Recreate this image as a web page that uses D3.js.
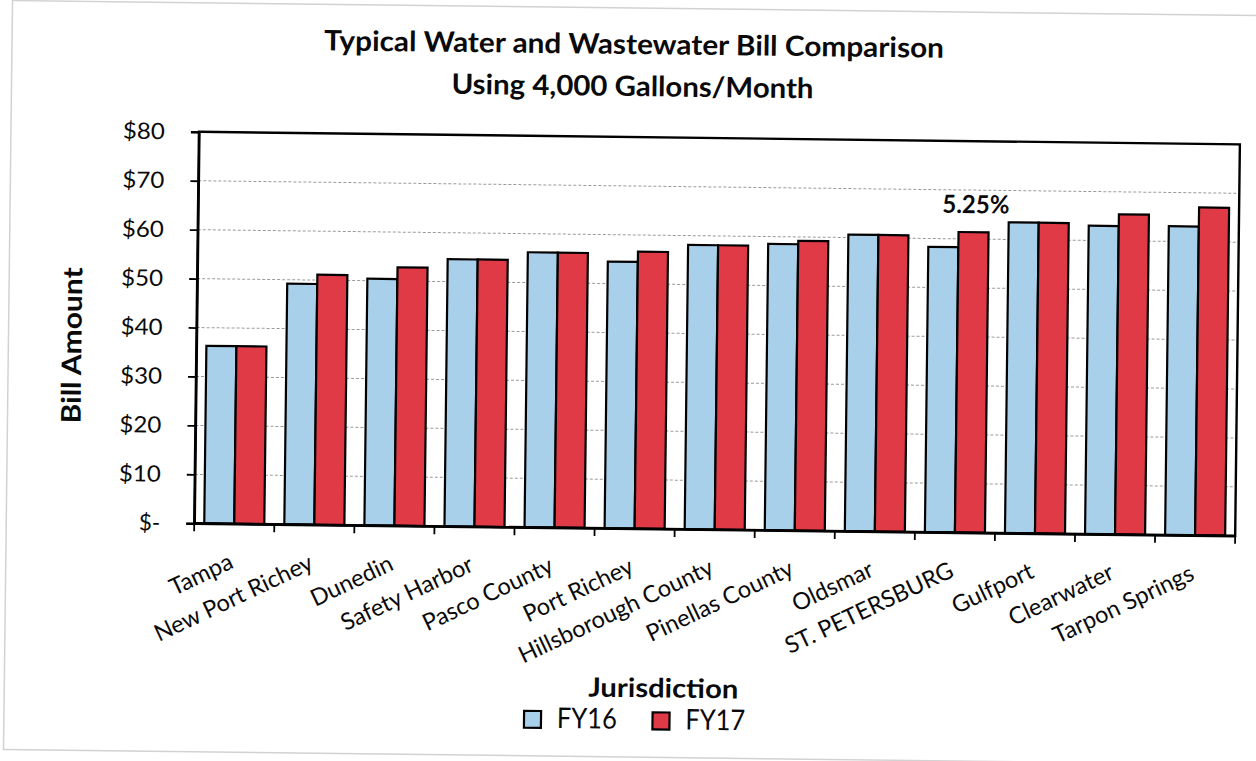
<!DOCTYPE html>
<html>
<head>
<meta charset="utf-8">
<script src="https://cdn.jsdelivr.net/npm/d3@7"></script>
<style>
  html, body { margin: 0; padding: 0; background: #ffffff; }
  svg { display: block; }
  text { font-family: Lato, "Open Sans", "Liberation Sans", sans-serif; fill: #0a0a0a; }
</style>
</head>
<body>
<svg id="chart" width="1256" height="761"></svg>
<script>
// ---- data ----
const categories = ["Tampa", "New Port Richey", "Dunedin", "Safety Harbor", "Pasco County",
  "Port Richey", "Hillsborough County", "Pinellas County", "Oldsmar", "ST. PETERSBURG",
  "Gulfport", "Clearwater", "Tarpon Springs"];
const seriesNames = ["FY16", "FY17"];
const fy16 = [36.3, 49.2, 50.4, 54.6, 56.2, 54.5, 58.1, 58.5, 60.6, 58.3, 63.5, 63.0, 63.1];
const fy17 = [36.3, 51.1, 52.8, 54.6, 56.2, 56.6, 58.1, 59.2, 60.6, 61.4, 63.5, 65.4, 67.0];
const yTicks = [0, 10, 20, 30, 40, 50, 60, 70, 80];
const yTickLabels = ["$-", "$10", "$20", "$30", "$40", "$50", "$60", "$70", "$80"];
const titleLines = ["Typical Water and Wastewater Bill Comparison", "Using 4,000 Gallons/Month"];
const yAxisTitle = "Bill Amount";
const xAxisTitle = "Jurisdiction";
const annotationCategory = ["ST. PETERSBURG"];
const annotationSeries = ["FY17"];
const annotationText = ["5.25%"];

// ---- styles ----
const colors = { FY16: "#a9d0ea", FY17: "#e03a46" };
const seriesValues = { FY16: fy16, FY17: fy17 };

const svg = d3.select("#chart");
svg.append("rect").attr("width", 1256).attr("height", 761).attr("fill", "#ffffff");

// the scanned page is turned slightly clockwise
const root = svg.append("g").attr("transform", "rotate(0.69, 628, 380)");

// faint page/chart-area frame
root.append("rect")
  .attr("x", 8).attr("y", 8).attr("width", 1270).attr("height", 749)
  .attr("fill", "none").attr("stroke", "#d2d2d2").attr("stroke-width", 1.5);

const plot = { left: 196, right: 1237, top: 137, bottom: 528.5 };

const x = d3.scaleBand().domain(categories)
  .range([plot.left, plot.right]).paddingInner(0.25).paddingOuter(0.125);
const xs = d3.scaleBand().domain(seriesNames).range([0, x.bandwidth()]);
const y = d3.scaleLinear().domain([0, 80]).range([plot.bottom, plot.top]);

// squeeze/stretch a text to a measured width, keeping its height
function setLen(sel, target) {
  sel.attr("textLength", target).attr("lengthAdjust", "spacingAndGlyphs");
}

// gridlines
root.append("g").selectAll("line")
  .data(yTicks.filter(d => d > 0 && d < 80))
  .join("line")
  .attr("x1", plot.left).attr("x2", plot.right)
  .attr("y1", d => y(d)).attr("y2", d => y(d))
  .attr("stroke", "#9a9a9a").attr("stroke-width", 1)
  .attr("stroke-dasharray", "3,2");

// bars
const groups = root.append("g").selectAll("g")
  .data(categories)
  .join("g")
  .attr("transform", d => `translate(${x(d)},0)`);

groups.selectAll("rect")
  .data((c, i) => seriesNames.map(s => ({ s, v: seriesValues[s][i] })))
  .join("rect")
  .attr("x", d => xs(d.s))
  .attr("width", xs.bandwidth())
  .attr("y", d => y(d.v))
  .attr("height", d => y(0) - y(d.v))
  .attr("fill", d => colors[d.s])
  .attr("stroke", "#000").attr("stroke-width", 2.2);

// plot border
root.append("rect")
  .attr("x", plot.left).attr("y", plot.top)
  .attr("width", plot.right - plot.left).attr("height", plot.bottom - plot.top)
  .attr("fill", "none").attr("stroke", "#000").attr("stroke-width", 2.4);

// y axis
const yAxis = root.append("g")
  .attr("transform", `translate(${plot.left},0)`)
  .call(d3.axisLeft(y).tickValues(yTicks)
    .tickFormat((d, i) => yTickLabels[i]).tickSize(8).tickPadding(26));
yAxis.select(".domain").attr("stroke", "#000").attr("stroke-width", 2.4);
yAxis.selectAll(".tick line").attr("stroke", "#000").attr("stroke-width", 1.8);
yAxis.selectAll(".tick text")
  .attr("font-size", 22.5).attr("fill", "#0a0a0a")
  .style("font-family", "Lato, 'Open Sans', sans-serif")
  .filter(d => d > 0)
  .call(setLen, 42);

// x axis (line + boundary ticks)
const xAxis = root.append("g")
  .attr("transform", `translate(0,${plot.bottom})`)
  .call(d3.axisBottom(x).tickSize(0).tickFormat(""));
xAxis.select(".domain").attr("stroke", "#000").attr("stroke-width", 2.4);
const half = (x.step() - x.bandwidth()) / 2;
const boundaries = categories.map(c => x(c) - half).concat([plot.right]);
xAxis.append("g").selectAll("line")
  .data(boundaries)
  .join("line")
  .attr("x1", d => d).attr("x2", d => d)
  .attr("y1", 0).attr("y2", 8)
  .attr("stroke", "#000").attr("stroke-width", 1.8);

// category labels
root.append("g").selectAll("text")
  .data(categories)
  .join("text")
  .attr("transform", d => `translate(${x(d) + x.bandwidth() / 2 + 1},572) rotate(-26)`)
  .attr("text-anchor", "end")
  .attr("font-size", 23.5)
  .text(d => d);

// title
root.append("text").attr("x", 630).attr("y", 54)
  .attr("text-anchor", "middle").attr("font-weight", "bold").attr("font-size", 28)
  .text(titleLines[0]).call(setLen, 620);
root.append("text").attr("x", 629).attr("y", 96)
  .attr("text-anchor", "middle").attr("font-weight", "bold").attr("font-size", 28)
  .text(titleLines[1]).call(setLen, 362);

// y axis title
root.append("text")
  .attr("transform", "translate(81,352) rotate(-90)")
  .attr("text-anchor", "middle").attr("font-weight", "bold").attr("font-size", 27)
  .text(yAxisTitle).call(setLen, 156);

// x axis title
root.append("text").attr("x", 667).attr("y", 697)
  .attr("text-anchor", "middle").attr("font-weight", "bold").attr("font-size", 26.5)
  .text(xAxisTitle).call(setLen, 150);

// annotation
annotationText.forEach((t, i) => {
  const c = annotationCategory[i], s = annotationSeries[i];
  const v = seriesValues[s][categories.indexOf(c)];
  root.append("text")
    .attr("x", x(c) + xs(s) + xs.bandwidth() / 2 + 2)
    .attr("y", y(v) - 19)
    .attr("text-anchor", "middle").attr("font-weight", "bold").attr("font-size", 25)
    .text(t).call(setLen, 67);
});

// legend
const legendX = [536.6, 665.1];
const legend = root.append("g").selectAll("g")
  .data(seriesNames)
  .join("g")
  .attr("transform", (d, i) => `translate(${legendX[i]},720.5)`);
legend.append("rect")
  .attr("x", -8.5).attr("y", -8.5).attr("width", 17).attr("height", 17)
  .attr("fill", d => colors[d]).attr("stroke", "#000").attr("stroke-width", 2.2);
legend.append("text")
  .attr("x", 24.3).attr("y", 8.3)
  .attr("font-size", 28.5)
  .text(d => d).call(setLen, 60);
</script>
</body>
</html>
